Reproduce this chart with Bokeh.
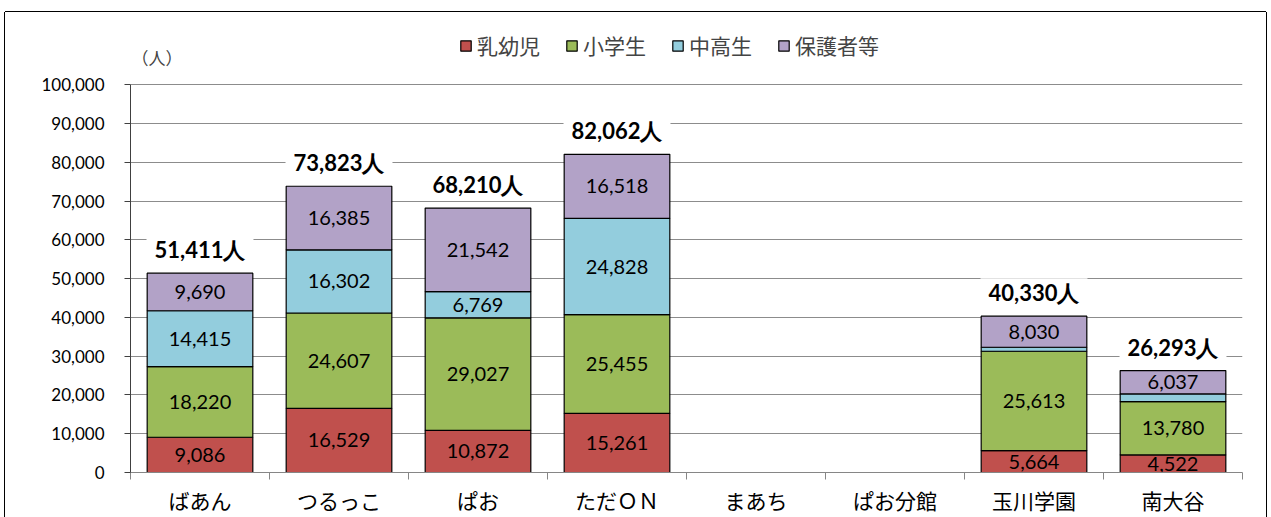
from bokeh.plotting import figure
from bokeh.models import ColumnDataSource, Range1d, FixedTicker, Label, Legend, LegendItem, NumeralTickFormatter
from bokeh.core.properties import value
from bokeh.embed import file_html
from bokeh.resources import INLINE

categories = ["ばあん", "つるっこ", "ぱお", "ただＯＮ", "まあち", "ぱお分館", "玉川学園", "南大谷"]
series_names = ["乳幼児", "小学生", "中高生", "保護者等"]
infants = [9086, 16529, 10872, 15261, 0, 0, 5664, 4522]
elementary = [18220, 24607, 29027, 25455, 0, 0, 25613, 13780]
juniorhigh = [14415, 16302, 6769, 24828, 0, 0, 1023, 1954]
guardians = [9690, 16385, 21542, 16518, 0, 0, 8030, 6037]
y_ticks = list(range(0, 100001, 10000))
colors = ["#C0504D", "#9BBB59", "#93CDDD", "#B2A2C7"]

JP = "Noto Sans CJK JP"
NUM = "Lato"

xs = [i + 0.5 for i in range(len(categories))]
source = ColumnDataSource(dict(x=xs, s0=infants, s1=elementary, s2=juniorhigh, s3=guardians))

p = figure(width=1261, height=505, x_range=Range1d(0, len(categories)), y_range=Range1d(0, 114000),
           output_backend="svg", toolbar_location=None,
           min_border_left=125, min_border_right=24, min_border_top=18, min_border_bottom=45)
p.styles = {"margin-left": "5px", "margin-top": "12px",
            "box-shadow": "-1px 0 0 0 #000000, 1px 0 0 0 #000000, 0 -1px 0 0 #000000"}
p.outline_line_color = None
p.background_fill_color = "white"

renderers = p.vbar_stack(["s0", "s1", "s2", "s3"], x="x", width=0.76, source=source,
                         color=colors, line_color="black", line_width=1.2)

# segment labels
arrs = [infants, elementary, juniorhigh, guardians]
lx, ly, lt = [], [], []
for i in range(len(categories)):
    base = 0
    for arr in arrs:
        v = arr[i]
        if v > 3000:
            lx.append(xs[i]); ly.append(base + v / 2); lt.append(f"{v:,}")
        base += v
p.text(x=lx, y=ly, text=lt, text_align="center", text_baseline="middle",
       text_font=value(NUM), text_font_size="20px", text_color="black")

# totals
tx, ty, tt = [], [], []
for i in range(len(categories)):
    tot = sum(a[i] for a in arrs)
    if tot > 0:
        tx.append(xs[i]); ty.append(tot); tt.append(f"{tot:,}人")
p.text(x=tx, y=ty, text=tt, text_align="center", text_baseline="bottom", y_offset=-9,
       text_font=value(NUM), text_font_size="22px", text_font_style="bold", text_color="black",
       background_fill_color="white", padding=(8, 1))

# axes
p.xaxis.ticker = FixedTicker(ticks=xs, minor_ticks=list(range(len(categories) + 1)))
p.xaxis.major_label_overrides = {x: c for x, c in zip(xs, categories)}
p.xaxis.major_tick_line_color = None
p.xaxis.minor_tick_out = 7
p.xaxis.minor_tick_in = 0
p.xaxis.minor_tick_line_color = "#868686"
p.xaxis.axis_line_color = "#868686"
p.xaxis.major_label_text_font = JP
p.xaxis.major_label_text_font_size = "21px"
p.xaxis.major_label_text_color = "black"
p.xaxis.major_label_standoff = 5

p.yaxis.ticker = FixedTicker(ticks=y_ticks)
p.yaxis.bounds = (0, 100000)
p.yaxis.formatter = NumeralTickFormatter(format="0,0")
p.yaxis.minor_tick_line_color = None
p.yaxis.major_tick_out = 6
p.yaxis.major_tick_in = 0
p.yaxis.axis_line_color = "#404040"
p.yaxis.major_tick_line_color = "#404040"
p.yaxis.major_label_text_font = NUM
p.yaxis.major_label_text_font_size = "17px"
p.yaxis.major_label_text_color = "black"
p.yaxis.major_label_standoff = 20

p.xgrid.grid_line_color = None
p.ygrid.grid_line_color = "#8c8c8c"
p.ygrid.grid_line_width = 1

p.add_layout(Label(x=0, y=107000, x_offset=1, text="（人）", text_font=JP,
                   text_font_size="17px", text_align="left", text_baseline="middle"))

legend = Legend(items=[LegendItem(label=n, renderers=[r]) for n, r in zip(series_names, renderers)],
                orientation="horizontal", location=(329, 412), glyph_width=13, glyph_height=13,
                label_text_font=JP, label_text_font_size="21px", spacing=25, label_standoff=5,
                padding=0, margin=0, border_line_alpha=0, background_fill_alpha=0)
p.add_layout(legend, "center")

open("out.html", "w").write(file_html(p, INLINE))
